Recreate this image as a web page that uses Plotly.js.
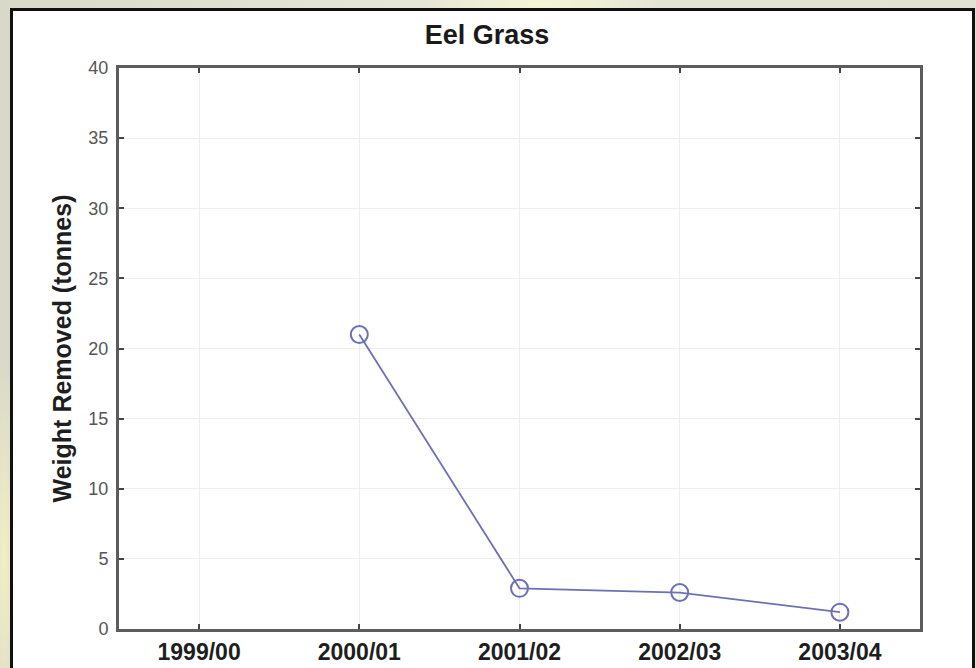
<!DOCTYPE html>
<html>
<head>
<meta charset="utf-8">
<script src="https://cdn.plot.ly/plotly-3.0.1.min.js"></script>
<style>
  html, body { margin: 0; padding: 0; }
  body {
    width: 976px; height: 668px; overflow: hidden; position: relative;
    background:
      radial-gradient(ellipse 120px 30px at 540px 4px, #f7f5d6 0%, rgba(247,245,214,0) 100%),
      radial-gradient(ellipse 20px 200px at 4px 560px, #f1efc6 0%, rgba(241,239,198,0) 100%),
      linear-gradient(90deg, #d9d9c9 0%, #e6e6d8 40%, #e2e2d2 100%);
  }
  #panel {
    position: absolute; left: 10px; top: 8px; width: 965px; height: 700px;
    box-sizing: border-box; background: #ffffff; border: 3px solid #111111;
  }
  #chart { position: absolute; left: 0; top: 0; width: 976px; height: 668px; }
</style>
</head>
<body>
<div id="panel"></div>
<div id="chart"></div>
<script>
  // Data
  const seasons = ["1999/00", "2000/01", "2001/02", "2002/03", "2003/04"];
  const weightRemoved = [null, 21.0, 2.9, 2.6, 1.2];
  const yTicks = [0, 5, 10, 15, 20, 25, 30, 35, 40];

  const trace = {
    type: "scatter",
    mode: "lines+markers",
    x: seasons,
    y: weightRemoved,
    connectgaps: false,
    line: { color: "#6c71b6", width: 1.8 },
    marker: { symbol: "circle-open", size: 17, color: "#6c71b6", line: { width: 2, color: "#6c71b6" } },
    hoverinfo: "x+y"
  };

  const layout = {
    width: 976, height: 668,
    paper_bgcolor: "rgba(0,0,0,0)",
    plot_bgcolor: "#ffffff",
    margin: { l: 119, r: 56, t: 68, b: 39, pad: 0 },
    showlegend: false,
    font: { family: "Liberation Sans, Arial, sans-serif", color: "#222222" },
    title: {
      text: "<b>Eel Grass</b>",
      font: { size: 27, color: "#1a1a1a", family: "Liberation Sans, Arial, sans-serif" },
      xref: "container", yref: "container",
      x: 0.499, xanchor: "center",
      y: 0.949, yanchor: "middle"
    },
    xaxis: {
      type: "category",
      categoryorder: "array",
      categoryarray: seasons,
      range: [-0.5, 4.5],
      showline: true, linecolor: "#5c5c5c", linewidth: 3, mirror: "ticks",
      ticks: "inside", ticklen: 5, tickwidth: 2, tickcolor: "#444444",
      showgrid: true, gridcolor: "#eeeeee", gridwidth: 1,
      zeroline: false,
      tickfont: { size: 23, color: "#1e1e1e", family: "Liberation Sans, Arial, sans-serif", weight: "bold" },
      ticklabelstandoff: 0,
      fixedrange: true
    },
    yaxis: {
      range: [0, 40],
      tickvals: yTicks,
      ticktext: yTicks.map(String),
      showline: true, linecolor: "#5c5c5c", linewidth: 3, mirror: "ticks",
      ticks: "inside", ticklen: 5, tickwidth: 2, tickcolor: "#444444",
      showgrid: true, gridcolor: "#eeeeee", gridwidth: 1,
      zeroline: false,
      tickfont: { size: 18, color: "#555555", family: "Liberation Sans, Arial, sans-serif" },
      ticklabelstandoff: 4,
      title: {
        text: "<b>Weight Removed (tonnes)</b>",
        font: { size: 25, color: "#1e1e1e", family: "Liberation Sans, Arial, sans-serif" },
        standoff: 10
      },
      automargin: false,
      fixedrange: true
    }
  };

  Plotly.newPlot("chart", [trace], layout, { displayModeBar: false, staticPlot: true });
</script>
</body>
</html>
